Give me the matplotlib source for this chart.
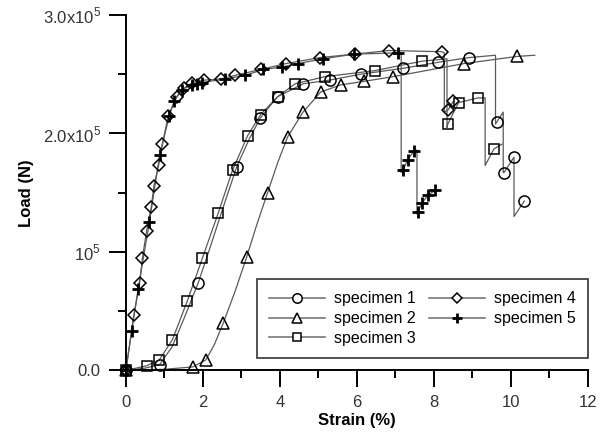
import matplotlib
matplotlib.use("Agg")
import matplotlib.pyplot as plt
from matplotlib.lines import Line2D
from matplotlib.ticker import MultipleLocator, FixedLocator, FixedFormatter

plt.rcParams["font.family"] = ["Liberation Sans", "DejaVu Sans"]
plt.rcParams["mathtext.fontset"] = "custom"
plt.rcParams["mathtext.rm"] = "Liberation Sans"

# loads are in units of 1e5 N, strain in %
# specimen 1 (circles)
s1_line_x = [0, 0.5, 0.88, 1.2, 1.5, 1.88, 2.2, 2.5, 2.88, 3.2, 3.49, 3.94, 4.61, 5.29, 6.1, 7.2, 8.1, 8.9,
             9.6, 9.6, 9.64, 9.8, 9.8, 9.82, 10.08, 10.08, 10.35]
s1_line_y = [0, 0.02, 0.05, 0.2, 0.43, 0.74, 1.05, 1.35, 1.72, 1.95, 2.13, 2.31, 2.42, 2.45, 2.5, 2.55, 2.6, 2.64,
             2.66, 2.08, 2.10, 2.18, 1.67, 1.67, 1.80, 1.30, 1.43]
s1_mk_x = [0, 0.88, 1.88, 2.88, 3.49, 3.94, 4.61, 5.29, 6.1, 7.2, 8.1, 8.9, 9.64, 9.82, 10.08, 10.35]
s1_mk_y = [0, 0.05, 0.74, 1.72, 2.13, 2.31, 2.42, 2.45, 2.5, 2.55, 2.6, 2.64, 2.10, 1.67, 1.80, 1.43]

# specimen 2 (triangles)
s2_line_x = [0, 1.0, 1.74, 2.08, 2.3, 2.53, 2.85, 3.14, 3.4, 3.68, 3.95, 4.2, 4.6, 5.06, 5.58, 6.19, 6.95,
             8.79, 10.16, 10.62]
s2_line_y = [0, 0.01, 0.03, 0.09, 0.22, 0.40, 0.68, 0.96, 1.23, 1.5, 1.76, 1.97, 2.18, 2.35, 2.41, 2.44, 2.48,
             2.59, 2.65, 2.66]
s2_mk_x = [0, 1.74, 2.08, 2.53, 3.14, 3.68, 4.2, 4.6, 5.06, 5.58, 6.19, 6.95, 8.79, 10.16]
s2_mk_y = [0, 0.03, 0.09, 0.40, 0.96, 1.5, 1.97, 2.18, 2.35, 2.41, 2.44, 2.48, 2.59, 2.65]

# specimen 3 (squares)
s3_line_x = [0, 0.54, 0.87, 1.21, 1.6, 1.99, 2.4, 2.77, 3.16, 3.5, 3.94, 4.4, 5.18, 6.46, 7.69, 8.34,
             8.34, 8.36, 8.64, 9.14, 9.33, 9.33, 9.56, 9.77]
s3_line_y = [0, 0.04, 0.09, 0.26, 0.59, 0.95, 1.33, 1.69, 1.98, 2.16, 2.31, 2.42, 2.48, 2.53, 2.61, 2.63,
             2.05, 2.08, 2.26, 2.30, 2.30, 1.73, 1.87, 1.91]
s3_mk_x = [0, 0.54, 0.87, 1.21, 1.6, 1.99, 2.4, 2.77, 3.16, 3.5, 3.94, 4.4, 5.18, 6.46, 7.69, 8.36, 8.64,
           9.14, 9.56]
s3_mk_y = [0, 0.04, 0.09, 0.26, 0.59, 0.95, 1.33, 1.69, 1.98, 2.16, 2.31, 2.42, 2.48, 2.53, 2.61, 2.08, 2.26,
           2.30, 1.87]

# specimen 4 (diamonds)
s4_line_x = [0, 0.21, 0.36, 0.43, 0.54, 0.66, 0.73, 0.85, 0.95, 1.1, 1.32, 1.5, 1.73, 2.03, 2.46, 2.84, 3.5,
             4.16, 5.03, 5.96, 6.83, 8.21, 8.27, 8.27, 8.37, 8.5]
s4_line_y = [0, 0.47, 0.74, 0.95, 1.18, 1.38, 1.56, 1.73, 1.91, 2.15, 2.31, 2.38, 2.43, 2.45, 2.46, 2.49, 2.54,
             2.59, 2.64, 2.67, 2.70, 2.69, 2.68, 2.18, 2.20, 2.27]
s4_mk_x = [0, 0.21, 0.36, 0.43, 0.54, 0.66, 0.73, 0.85, 0.95, 1.1, 1.32, 1.5, 1.73, 2.03, 2.46, 2.84, 3.5,
           4.16, 5.03, 5.96, 6.83, 8.21, 8.37, 8.5]
s4_mk_y = [0, 0.47, 0.74, 0.95, 1.18, 1.38, 1.56, 1.73, 1.91, 2.15, 2.31, 2.38, 2.43, 2.45, 2.46, 2.49, 2.54,
           2.59, 2.64, 2.67, 2.70, 2.69, 2.20, 2.27]

# specimen 5 (plus)
s5_line_x = [0, 0.15, 0.32, 0.61, 0.88, 1.13, 1.25, 1.45, 1.73, 1.97, 2.58, 3.1, 3.56, 4.05, 4.46, 5.13,
             5.93, 7.08, 7.15, 7.15, 7.2, 7.32, 7.48, 7.56, 7.56, 7.58, 7.69, 7.84, 8.04]
s5_line_y = [0, 0.33, 0.69, 1.25, 1.82, 2.15, 2.27, 2.37, 2.41, 2.43, 2.46, 2.49, 2.54, 2.56, 2.59, 2.63,
             2.67, 2.68, 2.68, 1.67, 1.69, 1.78, 1.85, 1.86, 1.32, 1.34, 1.41, 1.48, 1.52]
s5_mk_x = [0, 0.15, 0.32, 0.61, 0.88, 1.13, 1.25, 1.45, 1.73, 1.84, 1.97, 2.58, 3.1, 3.56, 4.05, 4.46, 5.13,
           5.93, 7.08, 7.2, 7.32, 7.48, 7.58, 7.69, 7.84, 8.04]
s5_mk_y = [0, 0.33, 0.69, 1.25, 1.82, 2.15, 2.27, 2.37, 2.41, 2.42, 2.43, 2.46, 2.49, 2.54, 2.56, 2.59, 2.63,
           2.67, 2.68, 1.69, 1.78, 1.85, 1.34, 1.41, 1.48, 1.52]

labels = ["specimen 1", "specimen 2", "specimen 3", "specimen 4", "specimen 5"]
markers = ["o", "^", "s", "D", "+"]
msizes = [8, 8, 7.5, 6, 9]

series = [
    (s1_line_x, s1_line_y, s1_mk_x, s1_mk_y),
    (s2_line_x, s2_line_y, s2_mk_x, s2_mk_y),
    (s3_line_x, s3_line_y, s3_mk_x, s3_mk_y),
    (s4_line_x, s4_line_y, s4_mk_x, s4_mk_y),
    (s5_line_x, s5_line_y, s5_mk_x, s5_mk_y),
]

LINE_COLOR = "#5a5a5a"

fig = plt.figure(figsize=(6.08, 4.40), dpi=100)
ax = fig.add_axes([0.207, 0.158, 0.760, 0.808])

handles = []
for (lx, ly, mx, my), lab, mk, ms in zip(series, labels, markers, msizes):
    ax.plot(lx, [v * 1e5 for v in ly], color=LINE_COLOR, lw=0.9, zorder=2, clip_on=False)
    mew = 2.0 if mk == "+" else 1.1
    ax.plot(mx, [v * 1e5 for v in my], linestyle="none", marker=mk, ms=ms,
            mfc="none" if mk != "+" else "k", mec="k", mew=mew, zorder=3, clip_on=False)
    handles.append(Line2D([], [], color="#777777", lw=1.2, marker=mk, ms=ms * 0.85,
                          mfc="white", mec="k", mew=mew, label=lab))

ax.set_xlim(0, 12)
ax.set_ylim(0, 3e5)

ax.xaxis.set_major_locator(MultipleLocator(2))
ax.xaxis.set_minor_locator(MultipleLocator(1))
ax.yaxis.set_major_locator(FixedLocator([0, 1e5, 2e5, 3e5]))
ax.yaxis.set_major_formatter(FixedFormatter(["0.0", r"10$^5$", r"2.0x10$^5$", r"3.0x10$^5$"]))
ax.yaxis.set_minor_locator(MultipleLocator(0.5e5))

ax.spines["top"].set_visible(False)
ax.spines["right"].set_visible(False)
for sp in ("left", "bottom"):
    ax.spines[sp].set_linewidth(1.4)

ax.tick_params(which="major", direction="out", length=12, width=1.4, labelsize=12, pad=6, colors="k")
ax.tick_params(which="minor", direction="out", length=6, width=1.4)
for t in ax.get_yticklabels() + ax.get_xticklabels():
    t.set_color("#333333")

ax.set_xlabel("Strain (%)", fontsize=12, fontweight="bold", labelpad=2)
ax.set_ylabel("Load (N)", fontsize=12, fontweight="bold", labelpad=6)

leg = ax.legend(handles=handles, ncol=2, loc="lower right", bbox_to_anchor=(1.0, 0.035),
                borderaxespad=0.0, fontsize=11.5, frameon=True, fancybox=False, handlelength=3.5,
                labelspacing=0.3, columnspacing=0.85, borderpad=0.75, handletextpad=0.55)
leg.get_frame().set_edgecolor("k")
leg.get_frame().set_linewidth(1.2)

fig.savefig("out.png", dpi=100)
